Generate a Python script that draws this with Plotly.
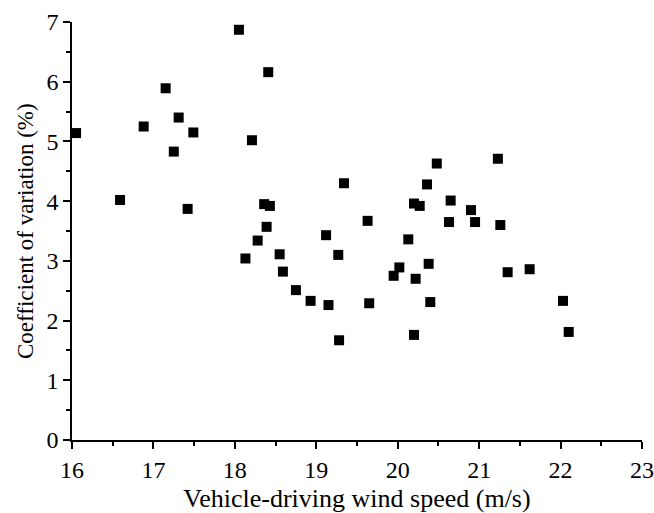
import plotly.graph_objects as go

wind_speed = [16.05, 16.59, 17.42, 16.88, 17.15, 17.31, 17.25, 17.49,
              18.05, 18.41, 18.21, 20.48, 21.23, 19.34, 20.36, 18.36,
              18.43, 20.20, 20.27, 20.65, 20.90, 20.63, 20.95, 21.26,
              21.35, 21.62, 22.03, 22.10, 19.63, 19.12, 18.28, 20.13,
              18.13, 18.55, 19.27, 18.59, 20.02, 19.95, 20.38, 20.22,
              18.75, 18.93, 19.15, 19.65, 20.40, 19.28, 20.20, 18.39]
cv_percent = [5.14, 4.02, 3.87, 5.25, 5.89, 5.40, 4.83, 5.15,
              6.87, 6.16, 5.02, 4.63, 4.71, 4.30, 4.28, 3.95,
              3.92, 3.96, 3.92, 4.01, 3.85, 3.65, 3.65, 3.60,
              2.81, 2.86, 2.33, 1.81, 3.67, 3.43, 3.34, 3.36,
              3.04, 3.11, 3.10, 2.82, 2.89, 2.75, 2.95, 2.70,
              2.51, 2.33, 2.26, 2.29, 2.31, 1.67, 1.76, 3.57]

x_ticks = [16, 17, 18, 19, 20, 21, 22, 23]
y_ticks = [0, 1, 2, 3, 4, 5, 6, 7]

font_family = "Liberation Serif, Times New Roman, serif"

fig = go.Figure(go.Scatter(
    x=wind_speed, y=cv_percent, mode="markers",
    marker=dict(symbol="square", size=10, color="black", line=dict(width=0)),
))

axis_common = dict(
    showgrid=False, zeroline=False, showline=True, linecolor="black", linewidth=1.5,
    ticks="outside", ticklen=7, tickwidth=1.5, tickcolor="black",
    tickfont=dict(family=font_family, size=24, color="black"),
    minor=dict(ticks="outside", ticklen=4, tickwidth=1.5, tickcolor="black", dtick=0.5),
    automargin=False,
)

fig.update_xaxes(range=[16, 23], tickvals=x_ticks, ticktext=[str(v) for v in x_ticks],
                 title=dict(text="Vehicle-driving wind speed (m/s)",
                            font=dict(family=font_family, size=26, color="black")),
                 **axis_common)
fig.update_yaxes(range=[0, 7], tickvals=y_ticks, ticktext=[str(v) for v in y_ticks],
                 **axis_common)

fig.add_annotation(
    text="Coefficient of variation (%)", textangle=-90,
    xref="paper", yref="paper", x=0, y=0.5, xshift=-47,
    xanchor="center", yanchor="middle", showarrow=False,
    font=dict(family=font_family, size=23, color="black"),
)

fig.update_layout(
    width=654, height=513,
    margin=dict(l=72, r=12, t=22, b=73),
    paper_bgcolor="white", plot_bgcolor="white",
    showlegend=False,
)

fig.write_html("out.html")
